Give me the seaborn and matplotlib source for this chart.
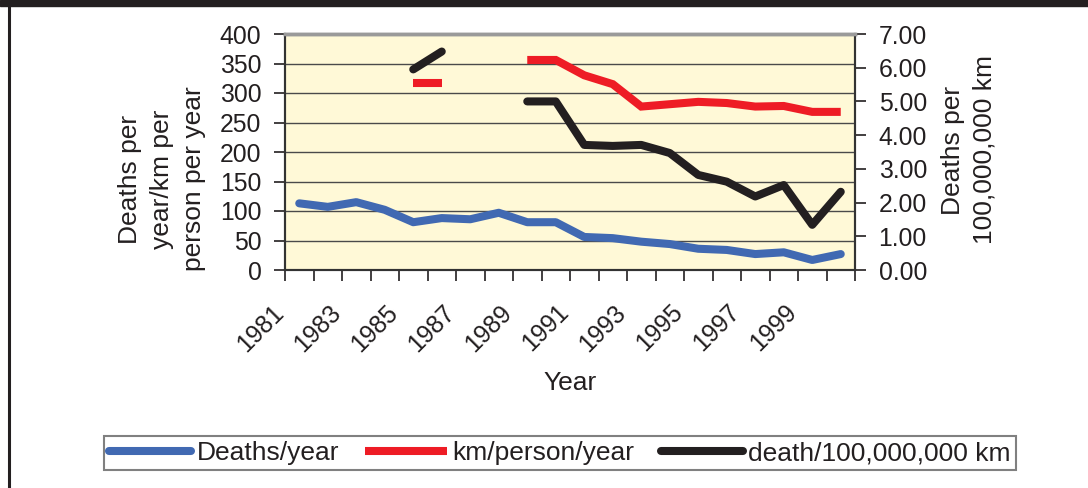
import numpy as np
import pandas as pd
import matplotlib.pyplot as plt
import seaborn as sns
from matplotlib.lines import Line2D
from matplotlib.patches import Rectangle
from matplotlib.transforms import ScaledTranslation

sns.set_style("ticks")
plt.rcParams['font.family'] = ['Liberation Sans', 'DejaVu Sans']

nan = np.nan
years = list(range(1981, 2001))
deaths_per_year = [113, 107, 115, 102, 81, 88, 86, 97, 81, 81,
                   56, 54, 48, 44, 36, 34, 27, 30, 17, 27]
km_per_person = [nan, nan, nan, nan, 317, 317, nan, nan, 356, 356,
                 330, 315, 277, 281, 285, 283, 277, 278, 268, 268]
death_per_100m_km = [nan, nan, nan, nan, 5.95, 6.48, nan, nan, 5.0, 5.0,
                     3.71, 3.68, 3.71, 3.47, 2.82, 2.62, 2.18, 2.52, 1.34, 2.32]
series_names = ["Deaths/year", "km/person/year", "death/100,000,000 km"]
colors = ["#4169B2", "#EE1C25", "#231F20"]

ink = "#231F20"
fs = 19
tfs = 17.8
lw = 5.8


def to_frame(values):
    # split series into segments so gaps are not joined
    df = pd.DataFrame({"idx": np.arange(len(values)), "value": values})
    df["segment"] = df["value"].isna().cumsum()
    return df.dropna()


fig = plt.figure(figsize=(10.88, 4.88), dpi=100)
ax = fig.add_axes([285 / 1088, 1 - 270 / 488, 570 / 1088, 236 / 488])
ax2 = ax.twinx()

ax.set_facecolor("#FFF9D7")
sns.lineplot(data=to_frame(deaths_per_year), x="idx", y="value", units="segment",
             estimator=None, color=colors[0], lw=lw, ax=ax, legend=False,
             solid_capstyle="round", solid_joinstyle="round")
sns.lineplot(data=to_frame(km_per_person), x="idx", y="value", units="segment",
             estimator=None, color=colors[1], lw=lw, ax=ax, legend=False,
             solid_capstyle="butt", solid_joinstyle="miter")
sns.lineplot(data=to_frame(death_per_100m_km), x="idx", y="value", units="segment",
             estimator=None, color=colors[2], lw=lw, ax=ax2, legend=False,
             solid_capstyle="round", solid_joinstyle="round")

ax.set_xlim(-0.5, 19.5)
ax.set_ylim(0, 400)
ax2.set_ylim(0, 7)
ax.set_yticks(np.arange(0, 401, 50))
ax2.set_yticks(np.arange(0, 8, 1))
ax2.set_yticklabels([f"{v:.2f}" for v in range(8)])

ax.set_xticks(np.arange(-0.5, 20, 1))
xlabels = [str(years[i]) if i % 2 == 0 and i < 20 else "" for i in range(21)]
ax.set_xticklabels(xlabels, rotation=45, rotation_mode="anchor",
                   ha="right", va="baseline")
shift = ScaledTranslation(3 / 100, 0, fig.dpi_scale_trans)
for lbl in ax.get_xticklabels():
    lbl.set_transform(lbl.get_transform() + shift)

ax.grid(axis="y", color="#4a4a4a", lw=1.0)
ax.grid(axis="x", visible=False)
ax.set_axisbelow(True)
ax.set_xlabel("")
ax.set_ylabel("")
ax2.set_xlabel("")
ax2.set_ylabel("")

ax.tick_params(axis="both", direction="out", length=8, width=1.2, color=ink,
               labelsize=tfs, labelcolor=ink)
ax.tick_params(axis="x", pad=23.5)
ax.tick_params(axis="y", pad=9)
ax2.tick_params(axis="y", direction="out", length=8, width=1.2, color=ink,
                labelsize=tfs, labelcolor=ink, pad=9)

for a in (ax, ax2):
    for side in ("left", "bottom", "right"):
        a.spines[side].set_color("#333333")
        a.spines[side].set_linewidth(1.5)
    a.spines["top"].set_color("#9a9a9a")
    a.spines["top"].set_linewidth(2.5)

fig.text(162 / 1088, 1 - 179 / 488, "Deaths per\nyear/km per\nperson per year",
         rotation=90, ha="center", va="center", multialignment="center",
         fontsize=fs, color=ink, linespacing=1.4)
fig.text(969 / 1088, 1 - 150 / 488, "Deaths per\n100,000,000 km",
         rotation=90, ha="center", va="center", multialignment="center",
         fontsize=fs, color=ink, linespacing=1.4)
fig.text(570 / 1088, 1 - 383 / 488, "Year", ha="center", va="center",
         fontsize=fs, color=ink)

handles = [Line2D([], [], color=colors[0], lw=lw, solid_capstyle="round"),
           Line2D([], [], color=colors[1], lw=lw, solid_capstyle="butt"),
           Line2D([], [], color=colors[2], lw=lw, solid_capstyle="round")]
leg = fig.legend(handles, series_names, loc="center", bbox_to_anchor=(560 / 1088, 1 - 453 / 488),
                 ncol=3, fontsize=fs, frameon=True, fancybox=False, framealpha=1,
                 edgecolor="#808080", handlelength=3.1, handletextpad=0.2,
                 columnspacing=1.0, borderpad=0.2, borderaxespad=0)
leg.get_frame().set_linewidth(1.5)
for t in leg.get_texts():
    t.set_color(ink)

# outer frame: dark band on top, line on the left
fig.patches.append(Rectangle((0, 1 - 6 / 488), 1, 6 / 488, transform=fig.transFigure,
                             color=ink, zorder=0))
fig.add_artist(Line2D([9 / 1088, 9 / 1088], [0, 1], transform=fig.transFigure,
                      color=ink, lw=2.2))

fig.savefig("out.png", dpi=100)
